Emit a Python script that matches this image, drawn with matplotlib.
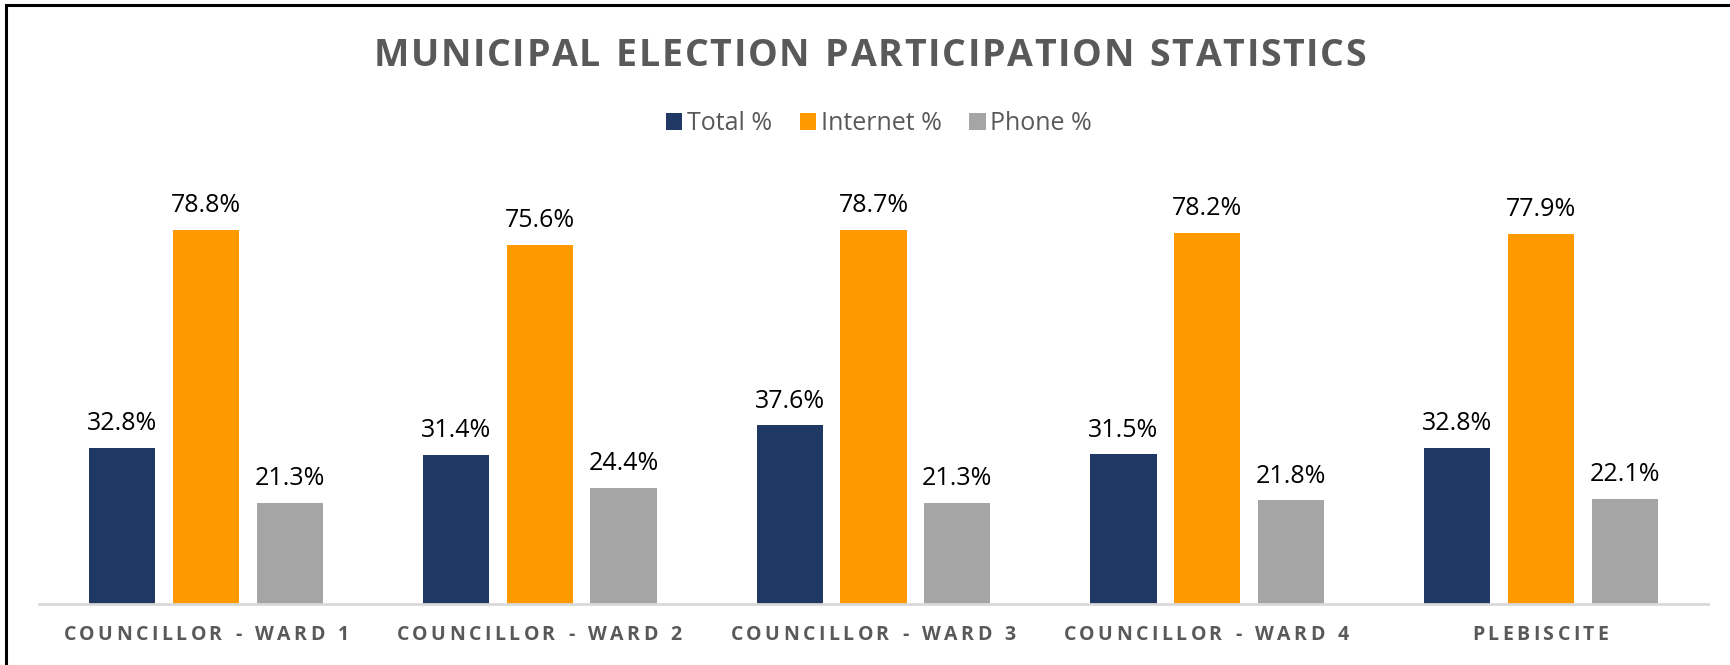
import numpy as np
import matplotlib
matplotlib.use("Agg")
import matplotlib.pyplot as plt
from matplotlib.patches import Rectangle

categories = ["COUNCILLOR - WARD 1", "COUNCILLOR - WARD 2", "COUNCILLOR - WARD 3",
              "COUNCILLOR - WARD 4", "PLEBISCITE"]
total_pct = [32.8, 31.4, 37.6, 31.5, 32.8]
internet_pct = [78.8, 75.6, 78.7, 78.2, 77.9]
phone_pct = [21.3, 24.4, 21.3, 21.8, 22.1]
series_names = ["Total %", "Internet %", "Phone %"]
colors = ["#203864", "#FF9900", "#A5A5A5"]
title = "MUNICIPAL ELECTION PARTICIPATION STATISTICS"

plt.rcParams['font.family'] = ['Open Sans', 'DejaVu Sans']
# bold Open Sans for the letter-spaced texts (drawn as mathtext so \hspace works)
plt.rcParams['mathtext.fontset'] = 'custom'
plt.rcParams['mathtext.rm'] = 'Open Sans:bold'
plt.rcParams['mathtext.it'] = 'Open Sans:bold'
plt.rcParams['mathtext.bf'] = 'Open Sans:bold'


def spaced(s, em):
    # fake letter spacing
    parts = [r"\ " if c == " " else r"\text{%s}" % c for c in s]
    return "$" + (r"\hspace{%g}" % em).join(parts) + "$"


fig = plt.figure(figsize=(17.31, 6.65), dpi=100)
ax = fig.add_axes([39 / 1731, 1 - 604 / 665, 1669 / 1731, 427.5 / 665])

x = np.arange(len(categories))
width = 0.198
step = 0.251
handles = []
for i, (vals, name, col) in enumerate(zip([total_pct, internet_pct, phone_pct], series_names, colors)):
    bars = ax.bar(x + (i - 1) * step, vals, width, color=col, label=name, zorder=2)
    handles.append(bars)
    for b, v in zip(bars, vals):
        ax.annotate(f"{v:.1f}%", (b.get_x() + b.get_width() / 2, v),
                    xytext=(0, 8.5), textcoords="offset points",
                    ha="center", va="bottom", fontsize=18, color="#000000")

ax.set_xlim(-0.5, len(categories) - 0.5)
ax.set_ylim(0, 90)
ax.set_yticks([])
for s in ["top", "right", "left"]:
    ax.spines[s].set_visible(False)
ax.spines["bottom"].set_color("#D9D9D9")
ax.spines["bottom"].set_linewidth(2)
ax.set_xticks(x)
ax.set_xticklabels([spaced(c, 0.18) for c in categories], fontsize=14, color="#595959")
ax.tick_params(axis="x", length=0, pad=16)

fig.text(870 / 1731, 1 - 56 / 665, spaced(title, 0.046),
         ha="center", va="center", fontsize=27, color="#595959")

fig.legend(handles=handles, labels=series_names, loc="center",
           bbox_to_anchor=(879 / 1731, 1 - 124 / 665), ncol=3, frameon=False,
           fontsize=18, labelcolor="#595959", handlelength=0.65, handleheight=0.65,
           handletextpad=0.2, columnspacing=1.1)

fig.patches.append(Rectangle((6 / 1731, -0.1), 1.2, 1.1 - 5 / 665, transform=fig.transFigure,
                             fill=False, edgecolor="black", linewidth=2.2))

fig.savefig("out.png", dpi=100)
